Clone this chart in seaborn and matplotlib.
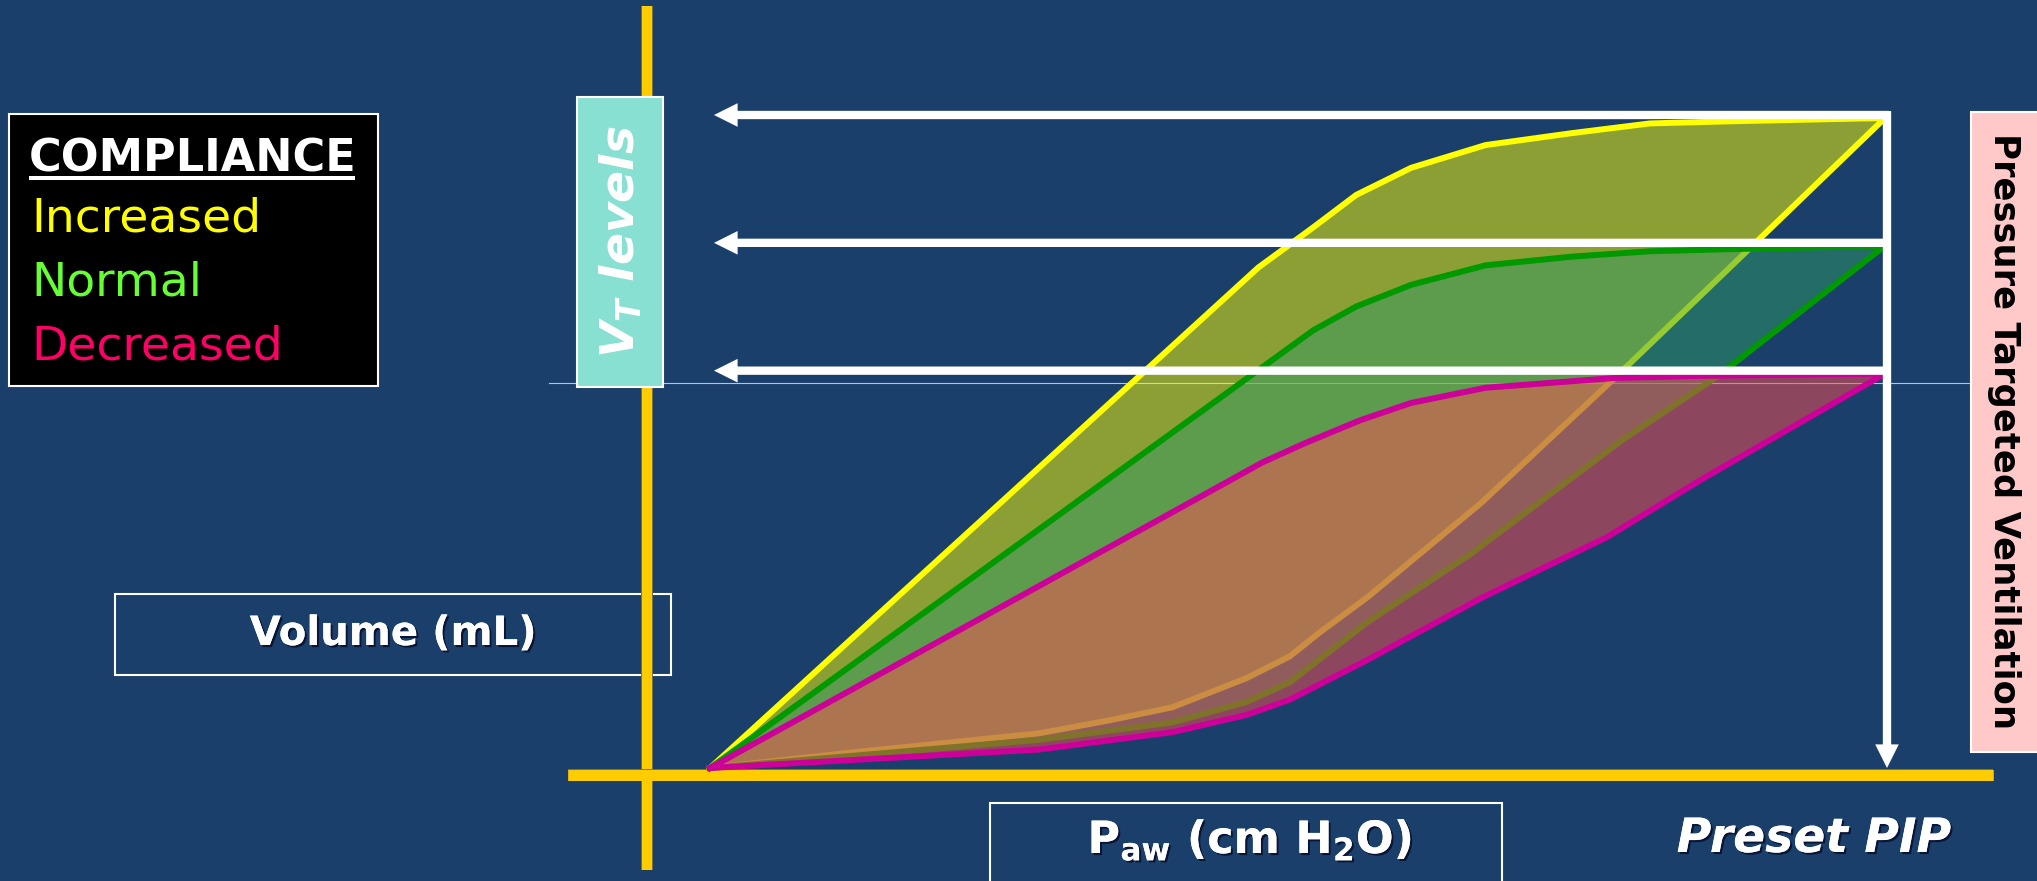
import matplotlib
matplotlib.use('Agg')
import matplotlib.pyplot as plt
import matplotlib.patheffects as pe
from matplotlib.patches import Rectangle
import seaborn as sns

# ── Data: pressure (cm H2O) / volume (mL) points of each loop ────────────────
pip = 30
vt_levels = [600, 482, 364]          # increased, normal, decreased compliance

inc_up_p = [0, 14.0, 15.4, 16.5, 17.9, 19.8, 22.0, 24.0, 26.1, 30]
inc_up_v = [0, 462, 499, 529, 554, 575, 586, 595, 597, 600]
inc_lo_p = [0, 3.8, 8.4, 10.2, 11.8, 13.7, 14.8, 15.6, 16.8, 19.7, 23.1, 26.7, 30]
inc_lo_v = [0, 15, 32, 44, 56, 83, 103, 126, 158, 245, 360, 485, 600]

nor_up_p = [0, 15.4, 16.5, 17.9, 19.8, 22.0, 24.0, 26.1, 30]
nor_up_v = [0, 404, 426, 446, 464, 472, 477, 479, 482]
nor_lo_p = [0, 8.4, 11.8, 13.7, 14.8, 16.8, 19.4, 23.3, 25.7, 30]
nor_lo_v = [0, 26, 42, 61, 79, 135, 197, 303, 361, 482]

dec_up_p = [0, 14.1, 15.2, 16.6, 17.9, 19.8, 23.1, 25.3, 30]
dec_up_v = [0, 282, 300, 321, 337, 351, 360, 362, 364]
dec_lo_p = [0, 8.4, 11.8, 13.7, 14.8, 16.8, 19.7, 22.9, 25.3, 30]
dec_lo_v = [0, 17, 33, 49, 63, 100, 157, 213, 266, 364]

legend_labels = ['Increased', 'Normal', 'Decreased']
legend_colors = ['#FFFF00', '#66FF33', '#FF0066']

# ── Layout (slide pixels) ─────────────────────────────────────────────────────
W, H = 2037, 881
BG = '#1A3F6B'
PX_CM = 1175 / 30      # pixels per cm H2O
PX_ML = 650 / 600      # pixels per mL
X0, Y0 = 710, 768      # pixel position of the loops' origin

plt.rcParams['mathtext.fontset'] = 'custom'
plt.rcParams['mathtext.rm'] = 'DejaVu Sans:bold'
plt.rcParams['mathtext.it'] = 'DejaVu Sans:bold:italic'
plt.rcParams['mathtext.bf'] = 'DejaVu Sans:bold'

fig = plt.figure(figsize=(W / 100, H / 100), dpi=100, facecolor=BG)
ax = fig.add_axes([0, 0, 1, 1])
ax.set_xlim(-X0 / PX_CM, (W - X0) / PX_CM)
ax.set_ylim(-(H - Y0) / PX_ML, Y0 / PX_ML)
ax.axis('off')


def fx(x):
    return x / W


def fy(y):
    return 1 - y / H


def box(x, y, w, h, fc, z):
    ax.add_patch(Rectangle((fx(x), fy(y + h)), w / W, h / H, transform=ax.transAxes,
                           fc=fc, ec='white', lw=1.5, zorder=z, clip_on=False))


def label(x, y, s, **kw):
    return ax.text(fx(x), fy(y), s, transform=ax.transAxes, **kw)


shadow = [pe.withSimplePatchShadow(offset=(1.5, -1.5), shadow_rgbFace='#0A1535', alpha=1), pe.Normal()]

# thin guide line
ax.plot([fx(549), fx(1990)], [fy(383), fy(383)], transform=ax.transAxes,
        color='#B8C4D0', lw=0.8, zorder=1)

# label boxes on the left / bottom
box(115, 594, 556, 81, 'none', 1)
box(990, 803, 512, 100, 'none', 1)

# yellow axes
axis_fx = [pe.withStroke(linewidth=8.6, foreground='#7A7344'), pe.Normal()]
ax.plot([fx(647), fx(647)], [fy(6), fy(870)], transform=ax.transAxes, color='#FFCC00',
        lw=7.2, solid_capstyle='butt', zorder=2, path_effects=axis_fx)
ax.plot([fx(568), fx(1993)], [fy(774.5), fy(774.5)], transform=ax.transAxes, color='#FFCC00',
        lw=7.8, solid_capstyle='butt', zorder=2, path_effects=axis_fx)

# ── P-V loops ─────────────────────────────────────────────────────────────────
loops = [
    (inc_up_p, inc_up_v, inc_lo_p, inc_lo_v, '#FFFF00', '#FFFF00'),
    (nor_up_p, nor_up_v, nor_lo_p, nor_lo_v, '#009900', '#2E9A64'),
    (dec_up_p, dec_up_v, dec_lo_p, dec_lo_v, '#CC0099', '#FF4F52'),
]
z = 3
for up_p, up_v, lo_p, lo_v, line_c, fill_c in loops:
    ax.fill(up_p + lo_p[::-1], up_v + lo_v[::-1], color=fill_c, alpha=0.5, lw=0, zorder=z)
    for xs, ys in [(up_p, up_v), (lo_p, lo_v)]:
        sns.lineplot(x=xs, y=ys, sort=False, estimator=None, color=line_c,
                     linewidth=4.3, ax=ax, zorder=z + 1)
    z += 2

# ── VT level arrows and preset PIP arrow ─────────────────────────────────────
arrow = dict(arrowstyle='simple,head_length=17,head_width=17,tail_width=6',
             mutation_scale=1, fc='white', ec='none', lw=0, shrinkA=0, shrinkB=0)
for lvl in vt_levels:
    yv = lvl + 3 / PX_ML
    ax.annotate('', xy=(4 / PX_CM, yv), xytext=(pip + 4 / PX_CM, yv),
                arrowprops=arrow, zorder=10)
ax.annotate('', xy=(pip + 2 / PX_CM, 0), xytext=(pip + 2 / PX_CM, vt_levels[0] + 7 / PX_ML),
            arrowprops=arrow, zorder=10)

# ── Compliance legend ────────────────────────────────────────────────────────
box(9, 114, 369, 272, 'black', 11)
label(29, 171, 'COMPLIANCE', color='white', fontsize=32, fontweight='bold',
      va='baseline', ha='left', zorder=12)
ax.plot([fx(29), fx(355)], [fy(178), fy(178)], transform=ax.transAxes,
        color='white', lw=2.9, solid_capstyle='butt', zorder=12)
for i, (txt, col) in enumerate(zip(legend_labels, legend_colors)):
    label(31, 232 + 63.5 * i, txt, color=col, fontsize=34, va='baseline', ha='left', zorder=12)

# VT levels box
box(577, 97, 86, 290, '#88E0D3', 11)
label(621, 242, r'$V_T$ levels', color='white', fontsize=34, fontweight='bold',
      fontstyle='italic', rotation=90, ha='center', va='center', zorder=12)

# pressure targeted ventilation box
box(1971, 112, 80, 640, '#FFC9C9', 11)
label(2004, 431, 'Pressure Targeted Ventilation', color='black', fontsize=25.5,
      fontweight='bold', rotation=-90, ha='center', va='center', zorder=12)

# axis labels
label(393, 634, 'Volume (mL)', color='white', fontsize=29, fontweight='bold',
      ha='center', va='center', zorder=12, path_effects=shadow)
label(1250, 840, r'P$_\mathrm{aw}$ (cm H$_\mathrm{2}$O)', color='white', fontsize=32,
      fontweight='bold', ha='center', va='center', zorder=12, path_effects=shadow)
label(1814, 852, 'Preset PIP', color='white', fontsize=34, fontweight='bold',
      fontstyle='italic', ha='center', va='baseline', zorder=12, path_effects=shadow)

fig.savefig('out.png', dpi=100, facecolor=BG)
plt.close(fig)
